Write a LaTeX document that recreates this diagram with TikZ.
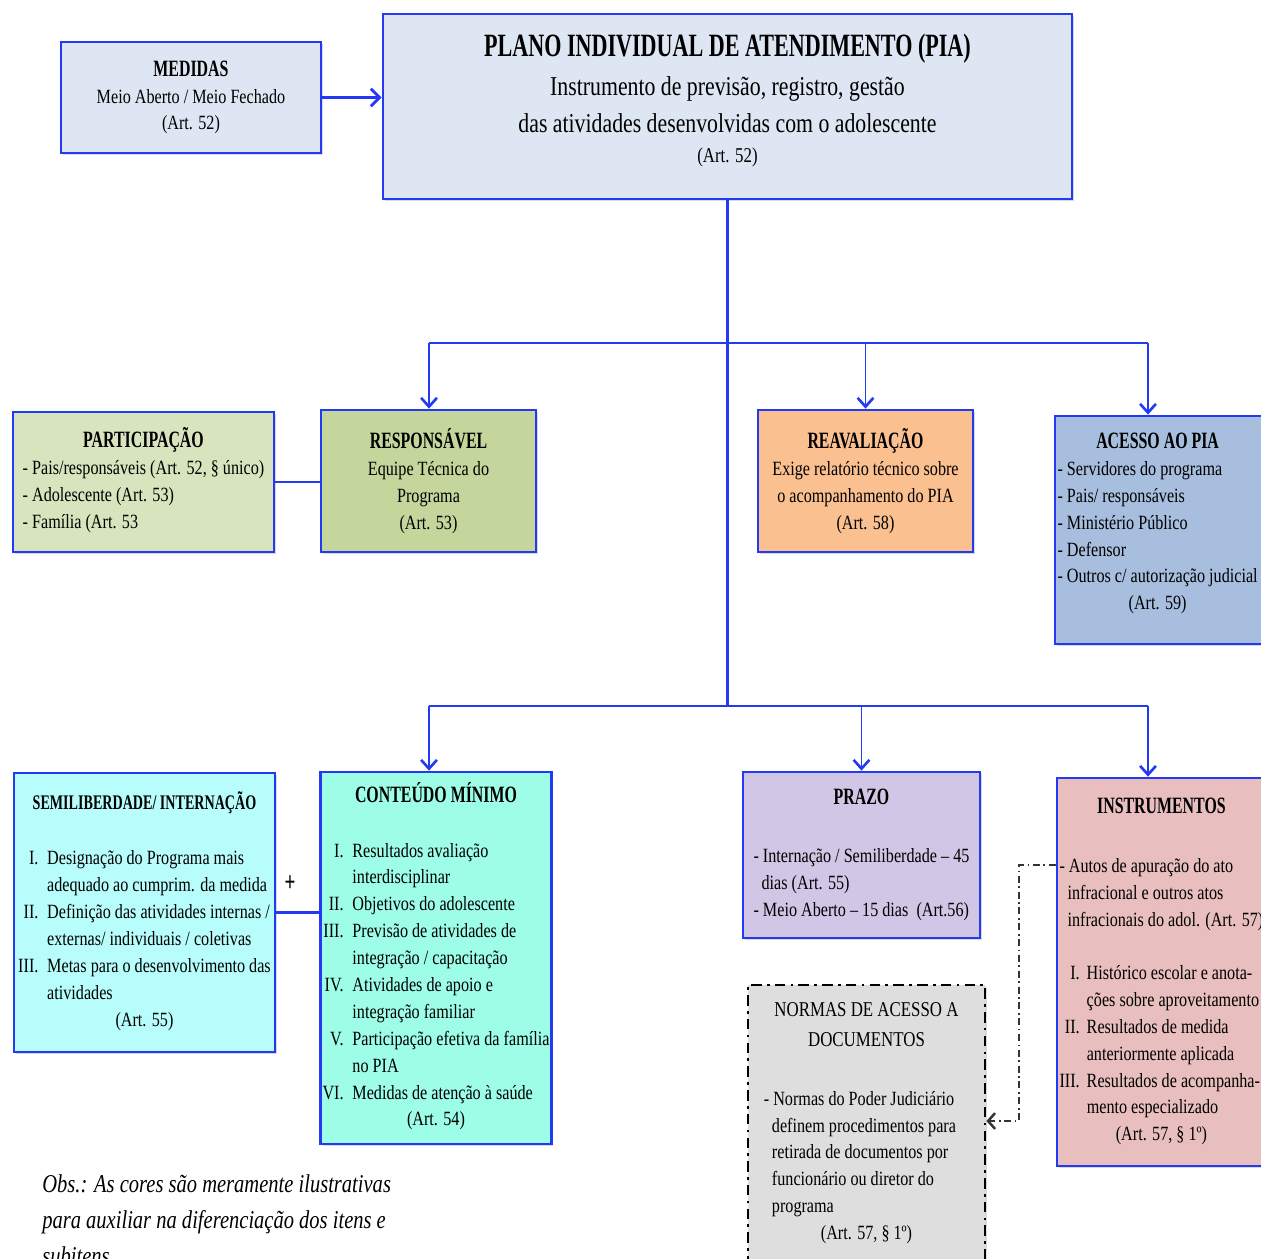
\documentclass[tikz,border=0pt]{standalone}
\usepackage{fontspec}
\setmainfont[FakeStretch=0.8, BoldFeatures={FakeStretch=0.68}]{Liberation Serif}
\usetikzlibrary{arrows.meta, positioning, shadows}

\definecolor{pblue}{RGB}{35,58,245}
\definecolor{piafill}{RGB}{221,230,242}
\definecolor{partfill}{RGB}{215,228,189}
\definecolor{respfill}{RGB}{196,214,155}
\definecolor{reavfill}{RGB}{250,192,144}
\definecolor{acesfill}{RGB}{167,190,222}
\definecolor{semifill}{RGB}{182,253,252}
\definecolor{contfill}{RGB}{157,253,230}
\definecolor{prazfill}{RGB}{210,198,230}
\definecolor{instfill}{RGB}{233,190,190}
\definecolor{normfill}{RGB}{222,222,222}

\newcommand{\ttl}[1]{{\fontsize{13.3}{15.3}\selectfont\bfseries #1}}
\newcommand{\mc}[2]{\multicolumn{#1}{c}{#2}}

\begin{document}
\begin{tikzpicture}[x=0.02cm, y=-0.02cm,
    box/.style={draw=pblue, line width=1.6pt, inner sep=1pt, align=center,
      font=\fontsize{11.5}{15.3}\selectfont,
      drop shadow={shadow xshift=1.2pt, shadow yshift=-1.2pt, opacity=0.3}},
    leftbox/.style={box, text width=4.2cm, align=left},
    conn/.style={pblue, line width=1.6pt},
    arr/.style={pblue, line width=0.9pt, -{Straight Barb[length=5pt, width=9pt, line width=1.5pt]}},
    ddline/.style={black!80, line width=0.7pt, dash pattern=on 4pt off 2pt on 1pt off 2pt,
      -{Straight Barb[length=4pt, width=9pt, line width=1.4pt]}}]
  \useasboundingbox (0,0) rectangle (1261,1258);

  % Top: medidas and plano
  \node[box, fill=piafill, minimum width=5.2cm, minimum height=2.22cm] (medidas) at (191,97.5)
    {\ttl{MEDIDAS}\\ Meio Aberto / Meio Fechado\\ (Art. 52)};
  \node[box, fill=piafill, minimum width=13.78cm, minimum height=3.7cm] (pia) at (727.5,106.5)
    {\ttl{\fontsize{18.5}{22}\selectfont PLANO INDIVIDUAL DE ATENDIMENTO (PIA)}\\[7pt]
     \fontsize{15.5}{20.5}\selectfont Instrumento de previsão, registro, gestão\\[5.5pt]
     \fontsize{15.5}{20.5}\selectfont das atividades desenvolvidas com o adolescente\\[2pt]
     \fontsize{12}{17}\selectfont (Art. 52)\\[-6pt]};

  % Middle row
  \node[box, fill=partfill, minimum width=5.22cm, minimum height=2.8cm] (particip) at (143.5,482)
    {\begin{tabular}{@{}l@{}}
       \mc{1}{\ttl{PARTICIPAÇÃO}}\\
       - Pais/responsáveis (Art. 52, § único)\\
       - Adolescente (Art. 53)\\
       - Família (Art. 53
     \end{tabular}};
  \node[box, fill=respfill, minimum width=4.3cm, minimum height=2.84cm] (resp) at (428.5,481)
    {\ttl{RESPONSÁVEL}\\ Equipe Técnica do\\ Programa\\ (Art. 53)};
  \node[box, fill=reavfill, minimum width=4.3cm, minimum height=2.84cm] (reav) at (865.5,481)
    {\ttl{REAVALIAÇÃO}\\ Exige relatório técnico sobre\\ o acompanhamento do PIA\\ (Art. 58)};
  \node[leftbox, fill=acesfill, minimum width=4.3cm, minimum height=4.56cm] (acesso) at (1162.5,530)
    {\spaceskip=0pt\xspaceskip=0pt
     \begin{tabular}{@{}l@{}}
       \mc{1}{\ttl{ACESSO AO PIA}}\\
       - Servidores do programa\\
       - Pais/ responsáveis\\
       - Ministério Público\\
       - Defensor\\
       - Outros c/ autorização judicial\\
       \mc{1}{(Art. 59)}\\[7pt]
     \end{tabular}};

  % Bottom row
  \node[box, fill=semifill, minimum width=5.22cm, minimum height=5.58cm] (semi) at (144.5,912.5)
    {\begin{tabular}{@{}r@{\hspace{5pt}}l@{}}
       \mc{2}{\ttl{\fontsize{11.8}{15.3}\selectfont SEMILIBERDADE/ INTERNAÇÃO}}\\[16pt]
       I. & Designação do Programa mais\\
          & adequado ao cumprim. da medida\\
       II. & Definição das atividades internas /\\
           & externas/ individuais / coletivas\\
       III. & Metas para o desenvolvimento das\\
            & atividades\\
       \mc{2}{(Art. 55)}
     \end{tabular}};
  \node[box, fill=contfill, minimum width=4.56cm, minimum height=7.44cm] (conteudo) at (436,958)
    {\begin{tabular}{@{}r@{\hspace{5pt}}l@{}}
       \mc{2}{\ttl{CONTEÚDO MÍNIMO}}\\[16pt]
       I. & Resultados avaliação\\
          & interdisciplinar\\
       II. & Objetivos do adolescente\\
       III. & Previsão de atividades de\\
            & integração / capacitação\\
       IV. & Atividades de apoio e\\
           & integração familiar\\
       V. & Participação efetiva da família\\
          & no PIA\\
       VI. & Medidas de atenção à saúde\\
       \mc{2}{(Art. 54)}
     \end{tabular}};
  \node[box, fill=prazfill, minimum width=4.74cm, minimum height=3.32cm] (prazo) at (861.5,855)
    {\begin{tabular}{@{}l@{}}
       \mc{1}{\ttl{PRAZO}}\\[18pt]
       - Internação / Semiliberdade – 45\\
       \ \ dias (Art. 55)\\
       - Meio Aberto – 15 dias\ \ (Art.56)
     \end{tabular}};
  \node[leftbox, fill=instfill, minimum width=4.3cm, minimum height=7.76cm] (instr) at (1164.5,972)
    {\spaceskip=0pt\xspaceskip=0pt
     \begin{tabular}{@{}r@{\hspace{4pt}}l@{}}
       \mc{2}{\ttl{INSTRUMENTOS}}\\[18pt]
       \multicolumn{2}{@{}l@{}}{- Autos de apuração do ato}\\
       \multicolumn{2}{@{}l@{}}{\ \ infracional e outros atos}\\
       \multicolumn{2}{@{}l@{}}{\ \ infracionais do adol. (Art. 57)}\\[15pt]
       I. & Histórico escolar e anota-\\
          & ções sobre aproveitamento\\
       II. & Resultados de medida\\
           & anteriormente aplicada\\
       III. & Resultados de acompanha-\\
            & mento especializado\\
       \mc{2}{(Art. 57, § 1º)}
     \end{tabular}};
  \node[box, draw=black, fill=normfill, line width=1.6pt,
    dash pattern=on 6pt off 3pt on 1.5pt off 3pt,
    minimum width=4.74cm, minimum height=5.5cm] (normas) at (866.5,1122.5)
    {\begin{tabular}{@{}l@{}}
       \mc{1}{\fontsize{12}{17}\selectfont NORMAS DE ACESSO A}\\[2pt]
       \mc{1}{\fontsize{12}{17}\selectfont DOCUMENTOS}\\[18pt]
       - Normas do Poder Judiciário\\
       \ \ definem procedimentos para\\
       \ \ retirada de documentos por\\
       \ \ funcionário ou diretor do\\
       \ \ programa\\
       \mc{1}{(Art. 57, § 1º)}
     \end{tabular}};

  \node[font=\fontsize{16}{16}\selectfont\bfseries] (plus) at (290,884) {+};
  \node[anchor=north west, inner sep=0pt, align=left,
    font=\itshape\fontsize{14.6}{20.5}\selectfont] (obs) at (42,1174)
    {Obs.: As cores são meramente ilustrativas\\
     para auxiliar na diferenciação dos itens e\\
     subitens};

  % Connectors
  \coordinate (b1l) at (429,343);
  \coordinate (b1r) at (1148,343);
  \coordinate (b2l) at (429,706);
  \coordinate (b2r) at (1148,706);
  \coordinate (dd) at (1019,865);
  \coordinate (dn) at (1019,1121);

  \draw[conn, -{Straight Barb[length=5pt, width=10pt, line width=1.6pt]}]
    (medidas.east) -- (medidas.east -| pia.west);
  \draw[conn] (pia.south) -- (pia.south |- b2l);
  \draw[conn] (b1l) -- (b1r);
  \draw[conn] (b2l) -- (b2r);
  \draw[arr] (b1l) -- (b1l |- resp.north);
  \draw[arr] (reav.north |- b1l) -- (reav.north);
  \draw[arr] (b1r) -- (b1r |- acesso.north);
  \draw[arr] (b2l) -- (b2l |- conteudo.north);
  \draw[arr] (prazo.north |- b2l) -- (prazo.north);
  \draw[arr] (b2r) -- (b2r |- instr.north);
  \draw[conn] (particip.east) -- (particip.east -| resp.west);
  \draw[conn] (semi.east) -- (semi.east -| conteudo.west);
  \draw[ddline] (instr.west |- dd) -- (dd) -- (dn) -- (dn -| normas.east);
\end{tikzpicture}
\end{document}
